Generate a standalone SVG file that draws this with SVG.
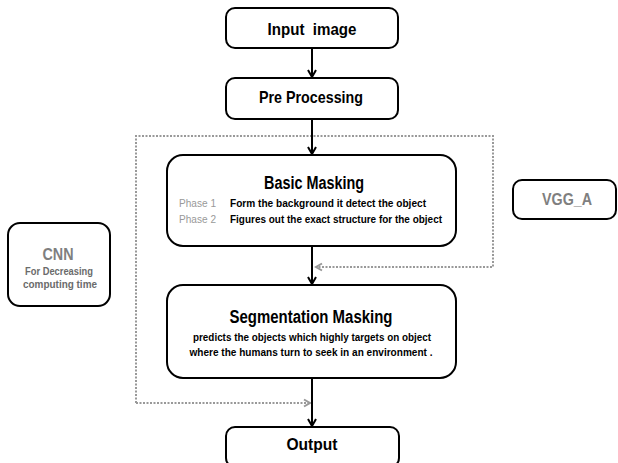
<svg xmlns="http://www.w3.org/2000/svg" width="618" height="463" viewBox="0 0 618 463">
<style>
.box{fill:#fff;stroke:#000;stroke-width:2}
.t{font-family:"Liberation Sans",Arial,sans-serif;font-weight:bold;fill:#000}
.ph{font-weight:normal;fill:#999}
.gr{fill:#7f7f7f}
.wire{stroke:#000;stroke-width:2;fill:none}
.dot{stroke:#999;stroke-width:2;stroke-dasharray:2 1.5;fill:none}
</style>
<defs>
<marker id="ah" markerWidth="10" markerHeight="10" refX="8" refY="5" orient="auto" markerUnits="userSpaceOnUse">
<path d="M1,1 L8,5 L1,9" fill="none" stroke="#000" stroke-width="2"/>
</marker>
<marker id="gh" markerWidth="10" markerHeight="10" refX="8" refY="5" orient="auto" markerUnits="userSpaceOnUse">
<path d="M2,1.5 L8,5 L2,8.5" fill="none" stroke="#999" stroke-width="2"/>
</marker>
</defs>
<rect width="618" height="463" fill="#fff"/>
<g id="connectors">
<path class="dot" d="M136,403 V136 H493 V267 H316" marker-end="url(#gh)"/>
<path class="dot" d="M136,403 H310" marker-end="url(#gh)"/>
<line class="wire" x1="312" y1="48" x2="312" y2="77" marker-end="url(#ah)"/>
<line class="wire" x1="312" y1="119" x2="312" y2="154" marker-end="url(#ah)"/>
<line class="wire" x1="312" y1="246" x2="312" y2="284" marker-end="url(#ah)"/>
<line class="wire" x1="312" y1="378" x2="312" y2="426" marker-end="url(#ah)"/>
</g>
<g id="input">
<rect class="box" x="226" y="8" width="172" height="40" rx="9"/>
<text class="t" x="312" y="35" font-size="17" text-anchor="middle" textLength="89" lengthAdjust="spacingAndGlyphs" xml:space="preserve">Input  image</text>
</g>
<g id="preprocessing">
<rect class="box" x="226" y="78" width="172" height="41" rx="9"/>
<text class="t" x="311" y="103" font-size="17" text-anchor="middle" textLength="104" lengthAdjust="spacingAndGlyphs">Pre Processing</text>
</g>
<g id="basic">
<rect class="box" x="167" y="155" width="289" height="91" rx="16"/>
<text class="t" x="314" y="189" font-size="18" text-anchor="middle" textLength="100" lengthAdjust="spacingAndGlyphs">Basic Masking</text>
<text class="t ph" x="179" y="207" font-size="11" textLength="37" lengthAdjust="spacingAndGlyphs">Phase 1</text>
<text class="t" x="230" y="207" font-size="11" textLength="196" lengthAdjust="spacingAndGlyphs">Form the background it detect the object</text>
<text class="t ph" x="179" y="223" font-size="11" textLength="37" lengthAdjust="spacingAndGlyphs">Phase 2</text>
<text class="t" x="230" y="223" font-size="11" textLength="212" lengthAdjust="spacingAndGlyphs">Figures out the exact structure for the object</text>
</g>
<g id="segmentation">
<rect class="box" x="167" y="285" width="289" height="93" rx="16"/>
<text class="t" x="311" y="323" font-size="18" text-anchor="middle" textLength="163" lengthAdjust="spacingAndGlyphs">Segmentation Masking</text>
<text class="t" x="312" y="341" font-size="10.5" text-anchor="middle" textLength="238" lengthAdjust="spacingAndGlyphs">predicts the objects which highly targets on object</text>
<text class="t" x="311" y="356" font-size="10.5" text-anchor="middle" textLength="243" lengthAdjust="spacingAndGlyphs">where the humans turn to seek in an  environment .</text>
</g>
<g id="output">
<rect class="box" x="226" y="427" width="173" height="40" rx="9"/>
<text class="t" x="312" y="450" font-size="17" text-anchor="middle" textLength="51" lengthAdjust="spacingAndGlyphs">Output</text>
</g>
<g id="cnn">
<rect class="box" x="8" y="223" width="102" height="83" rx="12"/>
<text class="t gr" x="58" y="260" font-size="16" text-anchor="middle" textLength="31" lengthAdjust="spacingAndGlyphs">CNN</text>
<text class="t" x="59" y="275" font-size="11" text-anchor="middle" fill="#6b6b6b" style="fill:#6b6b6b" textLength="68" lengthAdjust="spacingAndGlyphs">For Decreasing</text>
<text class="t" x="60" y="288" font-size="11" text-anchor="middle" style="fill:#6b6b6b" textLength="74" lengthAdjust="spacingAndGlyphs">computing time</text>
</g>
<g id="vgg">
<rect class="box" x="513" y="180" width="103" height="39" rx="9"/>
<text class="t gr" x="567" y="205" font-size="16" text-anchor="middle" textLength="50" lengthAdjust="spacingAndGlyphs">VGG_A</text>
</g>
</svg>
